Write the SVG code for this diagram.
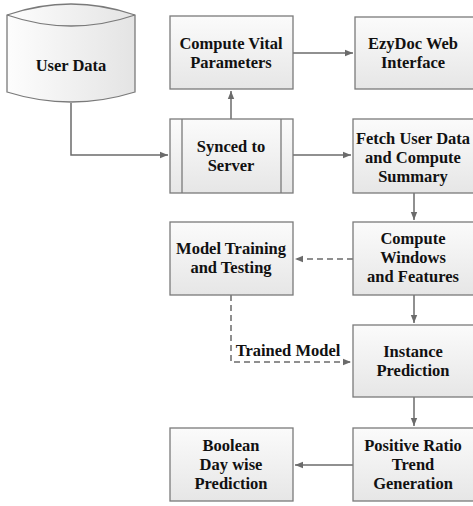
<svg xmlns="http://www.w3.org/2000/svg" width="473" height="506" viewBox="0 0 473 506">
<defs>
<linearGradient id="boxg" x1="0" y1="0" x2="0" y2="1">
<stop offset="0" stop-color="#fbfbfb"/>
<stop offset="1" stop-color="#e6e6e6"/>
</linearGradient>
<linearGradient id="cylg" x1="0" y1="0" x2="1" y2="0">
<stop offset="0" stop-color="#fdfdfd"/>
<stop offset="1" stop-color="#e4e4e4"/>
</linearGradient>
<marker id="arr" viewBox="0 0 10 10" refX="10" refY="5" markerWidth="8" markerHeight="8" markerUnits="userSpaceOnUse" orient="auto">
<path d="M0,1 L10,5 L0,9 Z" fill="#6b6b6b"/>
</marker>
</defs>
<style>
.box{fill:url(#boxg);stroke:#7a7a7a;stroke-width:1.3}
.cyl{fill:url(#cylg);stroke:#7a7a7a;stroke-width:1.3}
.t{font-family:'Liberation Serif','Times New Roman',serif;font-weight:700;font-size:16.5px;fill:#111;text-anchor:middle}
.c{fill:none;stroke:#6b6b6b;stroke-width:1.5}
.d{stroke-dasharray:6,4}
</style>
<rect width="473" height="506" fill="#fff"/>
<g id="connectors">
<path class="c" d="M71,103 V155 H168" marker-end="url(#arr)"/>
<path class="c" d="M231,119 V91" marker-end="url(#arr)"/>
<path class="c" d="M293,53 H353" marker-end="url(#arr)"/>
<path class="c" d="M293,155 H351" marker-end="url(#arr)"/>
<path class="c" d="M414,193 V220" marker-end="url(#arr)"/>
<path class="c d" d="M353,259 H295" marker-end="url(#arr)"/>
<path class="c" d="M414,295 V323" marker-end="url(#arr)"/>
<path class="c d" d="M231,295 V362 H351" marker-end="url(#arr)"/>
<path class="c" d="M414,397 V426" marker-end="url(#arr)"/>
<path class="c" d="M353,465 H295" marker-end="url(#arr)"/>
<rect x="233" y="341" width="109" height="19" fill="#fff"/>
<text class="t" x="288" y="356">Trained Model</text>
</g>
<g id="user-data">
<path class="cyl" d="M7,15 Q71,-7 135,15 V92 Q71,112 7,92 Z"/>
<path class="c" style="stroke:#7a7a7a;stroke-width:1.3" d="M7,15 Q71,37 135,15"/>
<text class="t" x="71" y="71">User Data</text>
</g>
<g id="compute-vital">
<rect class="box" x="170" y="16" width="123" height="73"/>
<text class="t" x="231" y="49">Compute Vital</text>
<text class="t" x="231" y="68">Parameters</text>
</g>
<g id="ezydoc">
<rect class="box" x="355" y="17" width="124" height="72"/>
<text class="t" x="413" y="49">EzyDoc Web</text>
<text class="t" x="413" y="68">Interface</text>
</g>
<g id="synced">
<rect class="box" x="170" y="119" width="123" height="74"/>
<path class="c" style="stroke:#7a7a7a;stroke-width:1.3" d="M182,119 V193 M281,119 V193"/>
<text class="t" x="231" y="152">Synced to</text>
<text class="t" x="231" y="171">Server</text>
</g>
<g id="fetch">
<rect class="box" x="353" y="119" width="126" height="74"/>
<text class="t" x="413" y="144">Fetch User Data</text>
<text class="t" x="413" y="163">and Compute</text>
<text class="t" x="413" y="182">Summary</text>
</g>
<g id="model-training">
<rect class="box" x="170" y="222" width="123" height="73"/>
<text class="t" x="231" y="254">Model Training</text>
<text class="t" x="231" y="273">and Testing</text>
</g>
<g id="compute-windows">
<rect class="box" x="353" y="222" width="126" height="73"/>
<text class="t" x="413" y="244">Compute</text>
<text class="t" x="413" y="263">Windows</text>
<text class="t" x="413" y="282">and Features</text>
</g>
<g id="instance">
<rect class="box" x="353" y="325" width="126" height="72"/>
<text class="t" x="413" y="357">Instance</text>
<text class="t" x="413" y="376">Prediction</text>
</g>
<g id="positive-ratio">
<rect class="box" x="353" y="428" width="126" height="73"/>
<text class="t" x="413" y="451">Positive Ratio</text>
<text class="t" x="413" y="470">Trend</text>
<text class="t" x="413" y="489">Generation</text>
</g>
<g id="boolean">
<rect class="box" x="170" y="428" width="123" height="73"/>
<text class="t" x="231" y="451">Boolean</text>
<text class="t" x="231" y="470">Day wise</text>
<text class="t" x="231" y="489">Prediction</text>
</g>
</svg>
